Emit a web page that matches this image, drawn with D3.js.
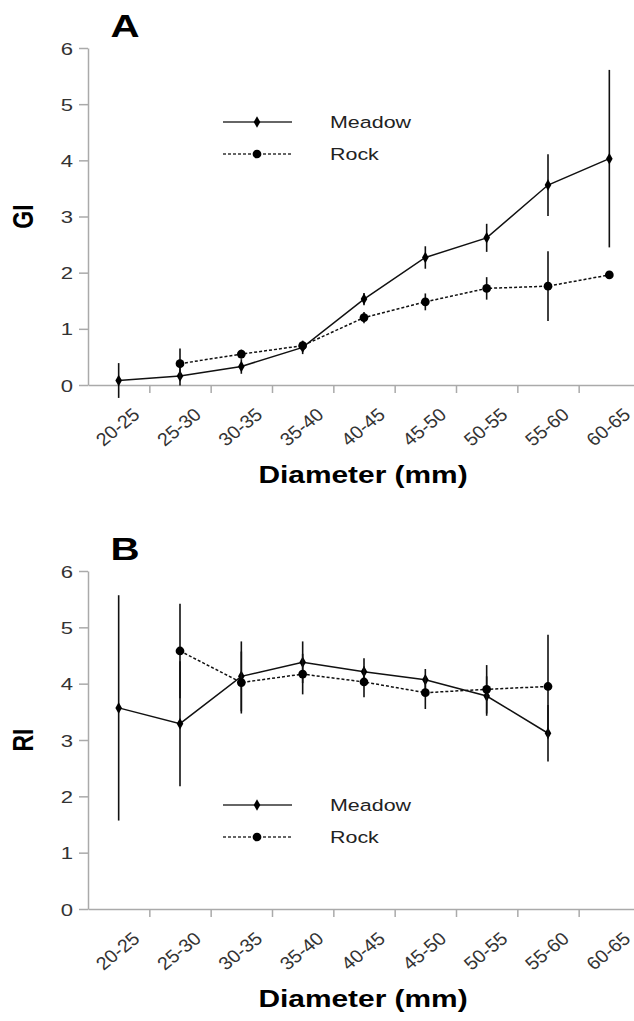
<!DOCTYPE html>
<html>
<head>
<meta charset="utf-8">
<script src="https://cdn.jsdelivr.net/npm/d3@7"></script>
<style>
  body { margin: 0; background: #fff; }
  svg { display: block; font-family: "Liberation Sans", Arial, sans-serif; }
</style>
</head>
<body>
<svg id="chart"></svg>
<script>
const categories = ['20-25', '25-30', '30-35', '35-40', '40-45', '45-50', '50-55', '55-60', '60-65'];
const yTicks = [0, 1, 2, 3, 4, 5, 6];

// panel A: growth index
const giMeadow = [0.08, 0.16, 0.33, 0.67, 1.53, 2.27, 2.62, 3.56, 4.03];
const giMeadowErr = [0.31, 0.17, 0.13, 0.12, 0.11, 0.2, 0.25, 0.55, 1.58];
const giRock = [null, 0.38, 0.55, 0.7, 1.2, 1.48, 1.72, 1.76, 1.96];
const giRockErr = [null, 0.27, 0.08, 0.08, 0.1, 0.15, 0.2, 0.62, 0.04];

// panel B: reproductive index
const riMeadow = [3.57, 3.29, 4.13, 4.38, 4.21, 4.07, 3.78, 3.12, null];
const riMeadowErr = [2.0, 1.11, 0.62, 0.37, 0.24, 0.19, 0.35, 0.5, null];
const riRock = [null, 4.58, 4.02, 4.17, 4.03, 3.84, 3.9, 3.95, null];
const riRockErr = [null, 0.84, 0.55, 0.36, 0.27, 0.29, 0.43, 0.92, null];

const seriesNames = ['Meadow', 'Rock'];

const width = 634, height = 1021;
const SX = 1.3; // the figure text is stretched horizontally
const svg = d3.select('#chart').attr('width', width).attr('height', height);

const x = d3.scaleBand().domain(categories).range([88, 640]);
const xEdges = d3.scaleLinear().domain([0, categories.length]).range([88, 640]);

function stretched(g, px, py, rot, str) {
  return g.append('text')
    .attr('transform', `translate(${px},${py}) scale(${SX},1) rotate(${rot})`)
    .text(str);
}

function drawPanel(letter, label, top, bottom, meadow, meadowErr, rock, rockErr, legendY) {
  const g = svg.append('g');
  const y = d3.scaleLinear().domain([0, 6]).range([bottom, top]);

  // y axis
  const yAxis = g.append('g')
    .attr('transform', 'translate(88,0)')
    .call(d3.axisLeft(y).tickValues(yTicks).tickFormat(d3.format('d')).tickSize(9).tickSizeOuter(0));
  yAxis.selectAll('text')
    .attr('x', null).attr('dy', null)
    .attr('dominant-baseline', 'central')
    .attr('transform', `translate(-15,0) scale(${SX},1)`)
    .attr('font-size', 17).attr('fill', '#333');

  // x axis: labels at band centers, ticks at band edges
  const xAxis = g.append('g')
    .attr('transform', `translate(0,${bottom})`)
    .call(d3.axisBottom(x).tickSize(0).tickSizeOuter(0));
  xAxis.selectAll('text')
    .attr('y', null).attr('dy', null)
    .attr('dominant-baseline', 'central')
    .attr('text-anchor', 'middle')
    .attr('transform', 'translate(-1,42) scale(1.1,1) rotate(-42)')
    .attr('font-size', 18).attr('fill', '#333');
  g.append('g')
    .attr('transform', `translate(0,${bottom})`)
    .call(d3.axisBottom(xEdges).tickValues(d3.range(1, categories.length)).tickFormat('').tickSize(8).tickSizeOuter(0))
    .select('.domain').remove();

  g.selectAll('.domain, .tick line').attr('stroke', '#aaa').attr('stroke-width', 1.5);

  // titles
  stretched(g, 125, top - 11, 0, letter)
    .attr('text-anchor', 'middle').attr('font-size', 31).attr('font-weight', 'bold');
  stretched(g, 23, (top + bottom) / 2, -90, label)
    .attr('text-anchor', 'middle').attr('dominant-baseline', 'central')
    .attr('font-size', 23).attr('font-weight', 'bold');
  stretched(g, 363, bottom + 98, 0, 'Diameter (mm)')
    .attr('text-anchor', 'middle').attr('font-size', 23).attr('font-weight', 'bold');

  const series = [
    { vals: meadow, errs: meadowErr, dash: null, sym: d3.symbolDiamond, size: 38 },
    { vals: rock, errs: rockErr, dash: '3,2', sym: d3.symbolCircle, size: 60 }
  ];

  series.forEach(s => {
    const pts = categories.map((c, i) => ({ c, v: s.vals[i], e: s.errs[i] })).filter(d => d.v != null);
    const cx = d => x(d.c) + x.bandwidth() / 2;

    g.append('g').selectAll('line')
      .data(pts.filter(d => d.e))
      .join('line')
        .attr('x1', cx).attr('x2', cx)
        .attr('y1', d => y(d.v - d.e)).attr('y2', d => y(d.v + d.e))
        .attr('stroke', '#111').attr('stroke-width', 1.6);

    g.append('path')
      .datum(pts)
      .attr('fill', 'none')
      .attr('stroke', '#111')
      .attr('stroke-width', 1.5)
      .attr('stroke-dasharray', s.dash)
      .attr('d', d3.line().x(cx).y(d => y(d.v)));

    g.append('g').selectAll('path')
      .data(pts)
      .join('path')
        .attr('transform', d => `translate(${cx(d)},${y(d.v)})`)
        .attr('d', d3.symbol().type(s.sym).size(s.size))
        .attr('fill', '#000');
  });

  // legend
  series.forEach((s, i) => {
    const ly = legendY + i * 32;
    g.append('line')
      .attr('x1', 223).attr('x2', 292).attr('y1', ly).attr('y2', ly)
      .attr('stroke', '#333').attr('stroke-width', 1.5)
      .attr('stroke-dasharray', s.dash);
    g.append('path')
      .attr('transform', `translate(257,${ly})`)
      .attr('d', d3.symbol().type(s.sym).size(s.size))
      .attr('fill', '#000');
    stretched(g, 330, ly, 0, seriesNames[i])
      .attr('dominant-baseline', 'central')
      .attr('font-size', 16.5).attr('fill', '#222');
  });
}

drawPanel('A', 'GI', 48, 385, giMeadow, giMeadowErr, giRock, giRockErr, 122);
drawPanel('B', 'RI', 571, 909, riMeadow, riMeadowErr, riRock, riRockErr, 805);
</script>
</body>
</html>
